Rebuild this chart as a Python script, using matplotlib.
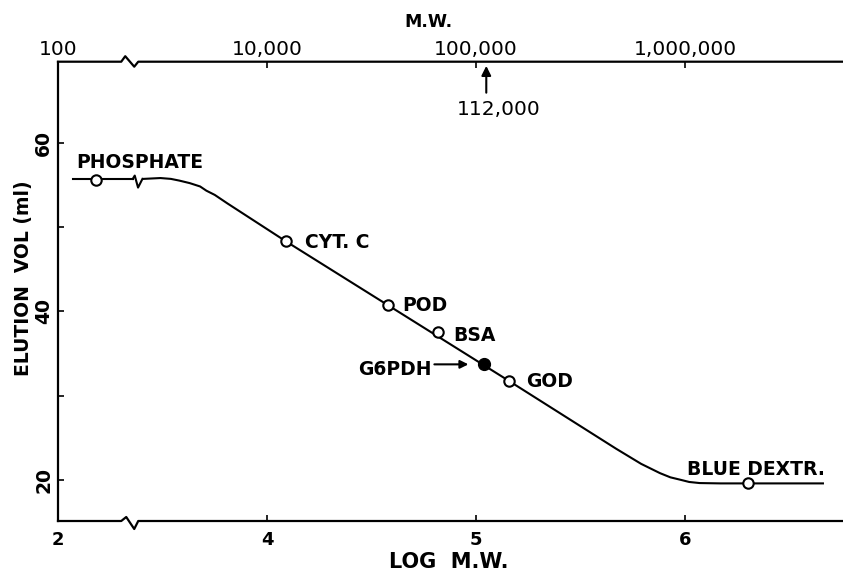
import numpy as np
import matplotlib.pyplot as plt
from matplotlib import transforms

# standards: log M.W. and elution volume (ml)
names = ['PHOSPHATE', 'CYT. C', 'POD', 'BSA', 'GOD', 'BLUE DEXTR.']
log_mw = [2.18, 4.09, 4.58, 4.82, 5.16, 6.30]
elution = [55.6, 48.3, 40.7, 37.5, 31.7, 19.6]

# unknown enzyme
g6pdh_log_mw = 5.04
g6pdh_vol = 33.7
g6pdh_mw = 112000

# calibration curve as drawn (left piece sits before the axis break)
curve_left_x = [2.07, 2.36]
curve_left_y = [55.7, 55.7]
curve_x = [3.41, 3.49, 3.54, 3.58, 3.63, 3.68, 3.71, 3.75, 3.81, 4.09, 5.16,
           5.67, 5.79, 5.88, 5.93, 5.98, 6.02, 6.07, 6.17, 6.66]
curve_y = [55.7, 55.8, 55.7, 55.5, 55.2, 54.8, 54.3, 53.8, 52.8, 48.3, 31.7,
           23.7, 21.9, 20.8, 20.3, 20.0, 19.75, 19.62, 19.58, 19.58]

bottom_ticks = [2, 4, 5, 6]
top_mw = [100, 10000, 100000, 1000000]
top_labels = ['100', '10,000', '100,000', '1,000,000']


def pos(v):
    # the axis break cuts out one decade: values below 3 are shifted right by 1
    v = np.asarray(v, float)
    return np.where(v < 3, v + 1, v)


W, H = 843, 571
fig = plt.figure(figsize=(W / 100, H / 100), dpi=100)
ax = fig.add_axes([58 / W, 50 / H, 1 - 58 / W, (521 - 61.7) / H])
ax.set_xlim(3, 6.756)
ax.set_ylim(15.12, 69.6)

for s in ['top', 'bottom', 'right']:
    ax.spines[s].set_visible(False)
ax.spines['left'].set_linewidth(1.6)

bold = dict(fontfamily='DejaVu Sans', fontweight='bold', fontsize=13.5)

ax.set_xticks(pos(bottom_ticks), [str(t) for t in bottom_ticks])
ax.set_yticks([20, 30, 40, 50, 60], ['20', '', '40', '', '60'])
ax.tick_params(axis='x', direction='in', length=4, width=1.2, pad=7, labelsize=13)
ax.tick_params(axis='y', direction='in', length=4, width=1.2, pad=3.5, labelsize=13.5,
               labelrotation=90)
for lab in ax.get_xticklabels() + ax.get_yticklabels():
    lab.set_fontweight('bold')
for lab in ax.get_yticklabels():
    lab.set_va('center')

sec = ax.secondary_xaxis('top')
sec.spines['top'].set_visible(False)
sec.set_xticks(pos(np.log10(top_mw)), top_labels)
sec.tick_params(direction='in', length=4, width=1.2, pad=2, labelsize=14.5)


def zig(trans, x0, y0, shape):
    bx, by = trans.transform((x0, y0))
    pts = [(bx + dx, by + dy) for dx, dy in shape]
    return trans.inverted().transform(pts)


blend = transforms.blended_transform_factory(ax.transData, ax.transAxes)
ub = 3.36
bot_shape = [(-12, 0), (-7, 4), (1, -8), (5, 0)]
top_shape = [(-12, 0), (-8, 5.5), (1, -5), (5, 0)]
for yy, shape in [(0, bot_shape), (1, top_shape)]:
    z = zig(blend, ub, yy, shape)
    xs = [3] + list(z[:, 0]) + [6.756]
    ys = [yy] + list(z[:, 1]) + [yy]
    ax.plot(xs, ys, color='black', lw=1.6, transform=blend, clip_on=False)

# curve
lx = pos(curve_left_x)
ax.plot(lx, curve_left_y, color='black', lw=1.5)
zc = zig(ax.transData, 3.383, curve_left_y[-1],
         [(-5.3, 0), (-3.3, 3.3), (0, -8.7), (4.4, 0)])
ax.plot(zc[:, 0], zc[:, 1], color='black', lw=1.5)
ax.plot(pos(curve_x), curve_y, color='black', lw=1.5)

ax.plot(pos(log_mw), elution, 'o', ms=7.5, mfc='white', mec='black', mew=1.5, zorder=5)
ax.plot(pos([g6pdh_log_mw]), [g6pdh_vol], 'o', ms=8.5, color='black', zorder=5)

# labels (left edge / baseline offsets in pixels from each point)
offsets = [(-19, 11.7), (19, -6.6), (14, -6), (15, -9), (17, -6), (-61, 8.3)]
for n, x, y, (dx, dy) in zip(names, pos(log_mw), elution, offsets):
    ax.annotate(n, (x, y), xytext=(dx, dy), textcoords='offset pixels',
                ha='left', va='baseline', **bold)

gx = float(pos([g6pdh_log_mw])[0])
ax.annotate('G6PDH', (gx, g6pdh_vol), xytext=(-53, -10.7), textcoords='offset pixels',
            ha='right', va='baseline', **bold)
ax.annotate('', (gx, g6pdh_vol), xytext=(-50, 0), textcoords='offset pixels',
            arrowprops=dict(arrowstyle='-|>', lw=1.5, color='black',
                            shrinkA=0, shrinkB=11.5, mutation_scale=12))

mx = float(np.log10(g6pdh_mw))
ax.annotate('', (mx, 1), xycoords=blend, xytext=(0, -31), textcoords='offset pixels',
            arrowprops=dict(arrowstyle='-|>', lw=1.5, color='black',
                            shrinkA=0, shrinkB=3, mutation_scale=14))
ax.annotate(f'{g6pdh_mw:,}', (mx, 1), xycoords=blend, xytext=(12, -53.3),
            textcoords='offset pixels', ha='center', va='baseline', fontsize=14.5,
            fontfamily='DejaVu Sans')

fig.text(428 / W, 1 - 26.7 / H, 'M.W.', ha='center', va='baseline', fontsize=12.5,
         fontweight='bold')
fig.text(449 / W, 1 - 568 / H, 'LOG  M.W.', ha='center', va='baseline', fontsize=15,
         fontweight='bold')
fig.text(24 / W, 1 - 278 / H, 'ELUTION  VOL (ml)', ha='center', va='center',
         rotation=90, fontsize=13.5, fontweight='bold')

fig.savefig('out.png', dpi=100)
